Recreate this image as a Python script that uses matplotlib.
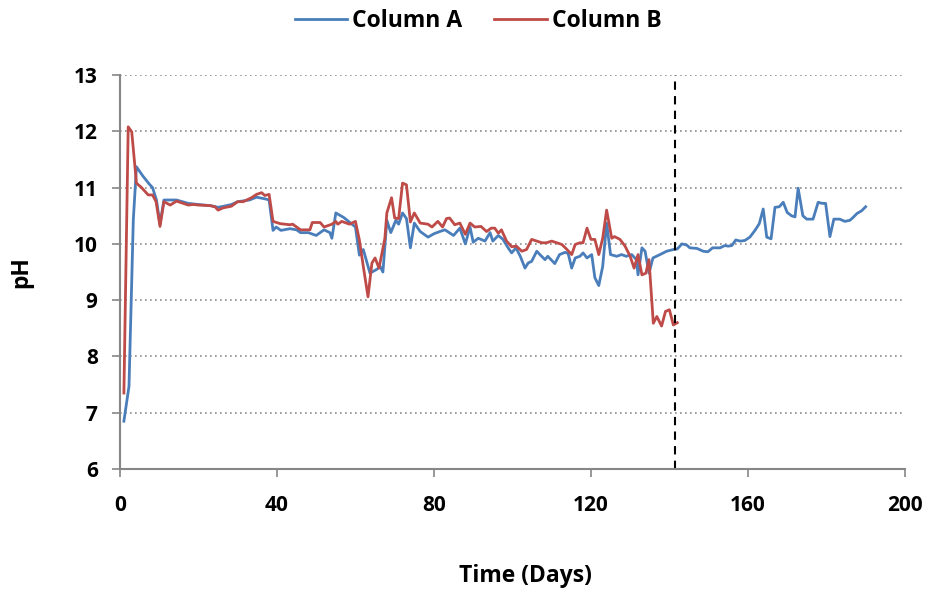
import matplotlib
matplotlib.use("Agg")
import matplotlib.pyplot as plt

# Column A (blue) - day, pH
days_a = [1, 2.3, 3.4, 4.2, 5.9, 7.5, 8.3, 9.3, 10.2, 11.2, 14.4, 17.4, 20, 23, 25,
          26.5, 28.4, 30, 33, 34.8, 37, 38, 39, 39.8, 41, 43.3, 45, 46, 48, 50,
          52, 53.5, 54, 55, 57, 58.6, 60, 61, 62, 63.7, 65.5, 66.3, 67, 68, 69,
          70.3, 71, 72, 73, 74, 75, 76.5, 78.5, 80, 81.5, 82.8, 85, 86.6, 88, 89.2,
          90, 91.3, 93, 94.3, 95, 96.4, 97.6, 98.9, 99.8, 100.9, 102, 103.2, 104,
          104.9, 106.2, 107, 108.3, 109, 110.8, 112, 113.4, 114.2, 115.1, 116,
          117.2, 118, 119, 120.2, 121, 122, 123, 124, 125, 126.6, 127.8, 129,
          130.4, 131.6, 132, 133, 133.8, 134.8, 135.8, 137.6, 139.3, 141, 142,
          143.2, 144.4, 145.2, 147, 148.6, 149.8, 151, 152.9, 154.1, 155, 155.9,
          156.9, 158, 159.2, 160.5, 161.8, 162.9, 163.9, 164.8, 165.9, 166.9, 168,
          169, 170, 171.1, 172, 172.8, 174, 175, 176.6, 177.9, 178.9, 179.8, 180.9,
          181.9, 183.4, 184.7, 186, 186.8, 187.8, 189, 190]
ph_a = [6.85, 7.47, 10.43, 11.37, 11.2, 11.06, 11.0, 10.78, 10.35, 10.78, 10.78, 10.72,
        10.7, 10.68, 10.65, 10.67, 10.7, 10.75, 10.78, 10.83, 10.8, 10.78, 10.24, 10.3,
        10.24, 10.27, 10.25, 10.2, 10.2, 10.15, 10.25, 10.2, 10.1, 10.55, 10.47, 10.38,
        10.3, 9.8, 9.9, 9.48, 9.55, 9.6, 9.5, 10.42, 10.2, 10.42, 10.35, 10.55, 10.45,
        9.93, 10.37, 10.22, 10.12, 10.18, 10.22, 10.25, 10.15, 10.28, 10.0, 10.3, 10.03,
        10.1, 10.05, 10.2, 10.05, 10.15, 10.08, 9.93, 9.84, 9.93, 9.78, 9.57, 9.66, 9.69,
        9.87, 9.81, 9.72, 9.78, 9.65, 9.81, 9.85, 9.83, 9.57, 9.75, 9.78, 9.84, 9.75,
        9.81, 9.4, 9.26, 9.6, 10.37, 9.81, 9.78, 9.81, 9.78, 9.81, 9.72, 9.45, 9.93,
        9.87, 9.48, 9.75, 9.81, 9.87, 9.9, 9.91, 10.0, 9.98, 9.93, 9.92, 9.87, 9.86,
        9.93, 9.93, 9.97, 9.96, 9.97, 10.07, 10.05, 10.06, 10.12, 10.24, 10.36, 10.62,
        10.12, 10.09, 10.65, 10.66, 10.74, 10.56, 10.5, 10.48, 10.99, 10.5, 10.44,
        10.44, 10.74, 10.72, 10.72, 10.13, 10.44, 10.44, 10.4, 10.42, 10.47, 10.54,
        10.59, 10.66]

# Column B (red) - day, pH
days_b = [1, 2.1, 3, 4.2, 5.5, 7.2, 8.3, 9.2, 10.2, 11.2, 12.8, 14.4, 17.4, 18.7, 20,
          23, 24.2, 25, 26.3, 28.4, 30, 31.4, 33.5, 34.8, 36.1, 36.9, 38, 39, 40.8,
          43.3, 44, 46, 48.4, 49, 51, 52, 54, 55, 55.5, 56.5, 58.5, 60, 61, 62, 63.2,
          64.2, 65, 66, 67.5, 68, 69.2, 70, 71, 72, 73, 74, 75, 76.5, 78.5, 79.5, 81,
          82.2, 83.2, 84, 85.3, 86.6, 88, 89.2, 90.4, 92, 93.4, 94.6, 95.5, 96.4, 97.2,
          98.5, 99.8, 101, 102.4, 103.6, 104.9, 106.2, 107.5, 108.7, 110, 111.3, 112.6,
          113.9, 115.1, 116, 117.2, 118, 119, 120, 121, 122, 123, 124, 125.3, 126,
          127.4, 128.7, 130, 131, 132, 133, 134, 134.8, 135.9, 136.8, 138, 139, 140,
          141, 142]
ph_b = [7.35, 12.08, 11.99, 11.08, 11.0, 10.87, 10.87, 10.75, 10.31, 10.75, 10.69, 10.76,
        10.69, 10.7, 10.69, 10.68, 10.66, 10.6, 10.64, 10.67, 10.75, 10.75, 10.82, 10.88,
        10.91, 10.86, 10.88, 10.4, 10.36, 10.34, 10.35, 10.25, 10.25, 10.38, 10.38, 10.3,
        10.35, 10.4, 10.35, 10.4, 10.35, 10.4, 10.07, 9.6, 9.06, 9.66, 9.75, 9.57, 10.1,
        10.55, 10.82, 10.46, 10.45, 11.08, 11.05, 10.39, 10.55, 10.37, 10.35, 10.3, 10.4,
        10.3, 10.45, 10.46, 10.34, 10.37, 10.17, 10.37, 10.3, 10.31, 10.22, 10.28, 10.28,
        10.19, 10.25, 10.05, 9.95, 9.96, 9.87, 9.9, 10.08, 10.05, 10.02, 10.02, 10.05,
        10.02, 9.99, 9.9, 9.81, 9.99, 10.02, 10.02, 10.28, 10.08, 10.08, 9.81, 10.1, 10.6,
        10.1, 10.13, 10.08, 9.96, 9.78, 9.57, 9.81, 9.45, 9.48, 9.72, 8.59, 8.71, 8.54,
        8.8, 8.83, 8.56, 8.6]

cutoff_day = 141.5
x_ticks = [0, 40, 80, 120, 160, 200]
y_ticks = [6, 7, 8, 9, 10, 11, 12, 13]

plt.rcParams['font.family'] = ['Open Sans', 'DejaVu Sans']
plt.rcParams['font.weight'] = 'bold'

fig = plt.figure(figsize=(9.3, 5.91), dpi=100)
ax = fig.add_axes([0.129, 0.2064, 0.844, 0.6666])

ax.plot(days_a, ph_a, color='#4A7EBB', lw=2.0, label='Column A')
ax.plot(days_b, ph_b, color='#BE4B48', lw=2.0, label='Column B')
ax.axvline(cutoff_day, color='black', lw=1.5, ls=(0, (4, 3)))

ax.set_xlim(0, 200)
ax.set_ylim(6, 13)
ax.set_xticks(x_ticks)
ax.set_yticks(y_ticks)
ax.grid(axis='y', color='#8c8c8c', ls=(0, (1, 2)), lw=1.2)
ax.set_axisbelow(True)

for s in ['top', 'right']:
    ax.spines[s].set_visible(False)
for s in ['left', 'bottom']:
    ax.spines[s].set_color('#868686')
    ax.spines[s].set_linewidth(1.5)
ax.tick_params(axis='both', colors='#868686', length=6, width=1.2, labelsize=15,
               labelcolor='black')
ax.tick_params(axis='x', pad=13)
ax.tick_params(axis='y', pad=10)
for lab in ax.get_xticklabels() + ax.get_yticklabels():
    lab.set_fontweight('bold')

ax.set_xlabel('Time (Days)', fontsize=16.5, fontweight='bold', labelpad=34)
ax.xaxis.label.set_x(0.517)
ax.set_ylabel('pH', fontsize=16.5, fontweight='bold', labelpad=29)

fig.legend(loc='upper center', bbox_to_anchor=(0.514, 1.019), ncol=2, frameon=False,
           prop={'size': 16.5, 'weight': 'bold'}, handlelength=2.3, columnspacing=1.4,
           handletextpad=0.2)

fig.savefig('out.png', dpi=100)
